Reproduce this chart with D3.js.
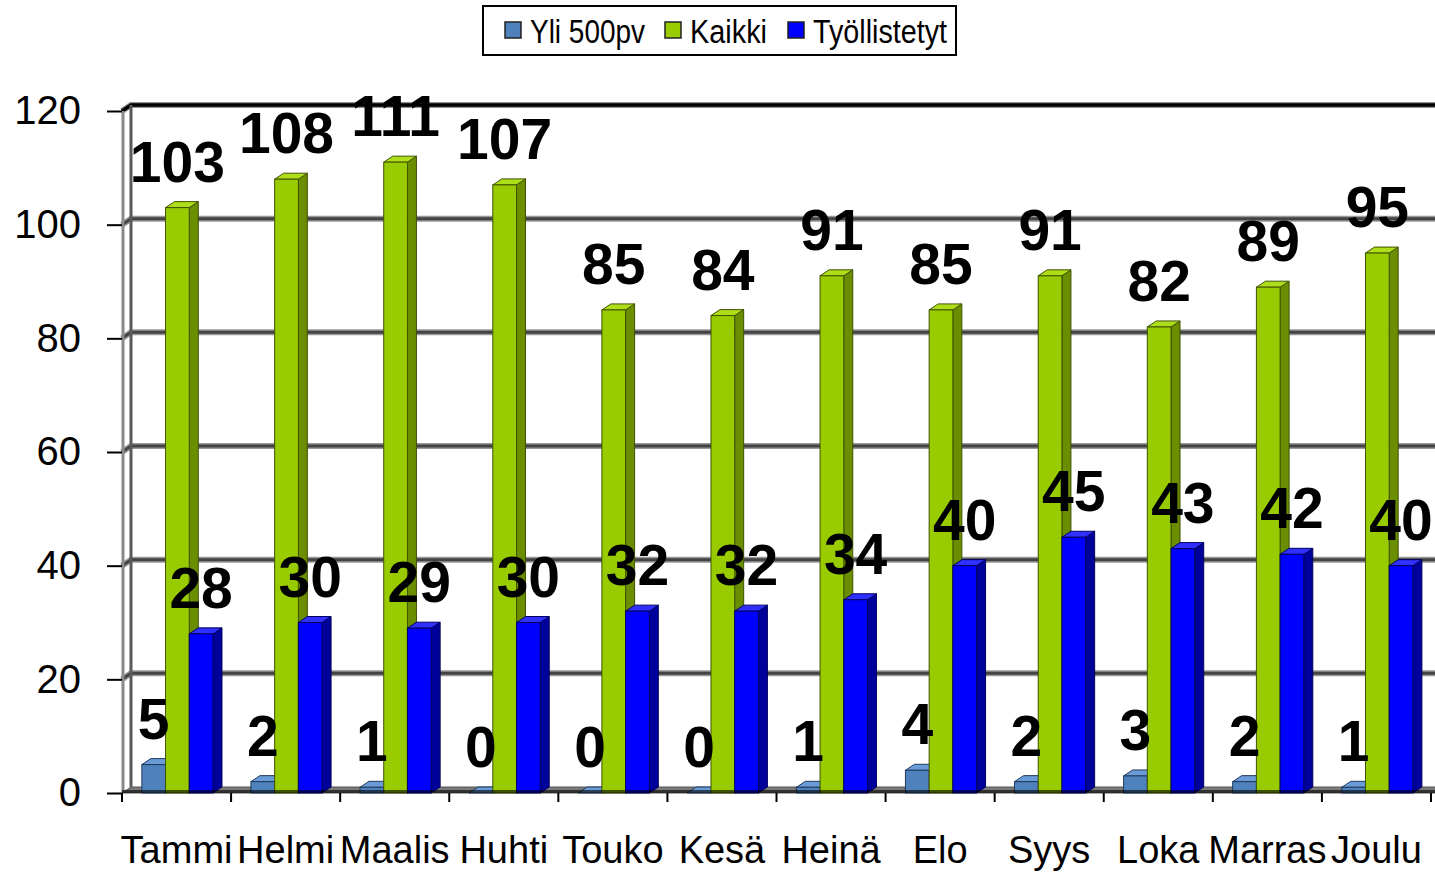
<!DOCTYPE html>
<html>
<head>
<meta charset="utf-8">
<script src="https://cdn.jsdelivr.net/npm/d3@7"></script>
<style>
html,body{margin:0;padding:0;background:#fff;}
svg{display:block;font-family:"Liberation Sans",Arial,sans-serif;}
</style>
</head>
<body>
<svg id="chart" width="1435" height="872"></svg>
<script>
const months = ["Tammi","Helmi","Maalis","Huhti","Touko","Kesä","Heinä","Elo","Syys","Loka","Marras","Joulu"];
const seriesNames = ["Yli 500pv","Kaikki","Työllistetyt"];
const yli500 = [5,2,1,0,0,0,1,4,2,3,2,1];
const kaikki = [103,108,111,107,85,84,91,85,91,82,89,95];
const tyollistetyt = [28,30,29,30,32,32,34,40,45,43,42,40];
const yTicks = [0,20,40,60,80,100,120];

const seriesValues = [yli500, kaikki, tyollistetyt];
const colors = {
  front: ["#4F81BD","#99CC00","#0000FF"],
  top:   ["#6A9BD6","#AEDD1A","#3030FF"],
  side:  ["#2F5A8C","#6B8E00","#00009A"],
  edge:  ["#1F3A5C","#3F5200","#000060"]
};

const svg = d3.select("#chart");
const DX = 9, DY = 6;
const x = d3.scaleBand().domain(months).range([122, 1431]).padding(0);
const bw = x.bandwidth();
const xs = d3.scaleBand().domain(seriesNames).range([bw*0.182, bw*0.834]).padding(0);
const sw = xs.bandwidth();
const y = d3.scaleLinear().domain([0,120]).range([793,111]);
const y0 = y(0);

// back wall gridlines
const gl = svg.append("g");
yTicks.filter(v => v > 0 && v < 120).forEach(v => {
  const yy = y(v);
  gl.append("polyline")
    .attr("points", `122,${yy} ${122+DX},${yy-DY} 1440,${yy-DY}`)
    .attr("fill","none").attr("stroke","#999").attr("stroke-width",6);
  gl.append("polyline")
    .attr("points", `122,${yy} ${122+DX},${yy-DY} 1440,${yy-DY}`)
    .attr("fill","none").attr("stroke","#444").attr("stroke-width",3);
});
// top line
gl.append("polyline")
  .attr("points", `122,${y(120)} ${122+DX},${y(120)-DY} 1440,${y(120)-DY}`)
  .attr("fill","none").attr("stroke","#909090").attr("stroke-width",6);
gl.append("polyline")
  .attr("points", `122,${y(120)} ${122+DX},${y(120)-DY} 1440,${y(120)-DY}`)
  .attr("fill","none").attr("stroke","#000").attr("stroke-width",3.5);
// wall vertical edges
gl.append("line").attr("x1",122+DX).attr("x2",122+DX).attr("y1",y(120)-DY).attr("y2",y0-DY)
  .attr("stroke","#5a5a5a").attr("stroke-width",3);
gl.append("line").attr("x1",123).attr("x2",123).attr("y1",y(120)).attr("y2",y0)
  .attr("stroke","#8a8a8a").attr("stroke-width",3);

// floor
svg.append("polygon")
  .attr("points", `122,${y0} ${122+DX},${y0-DY} ${1431+DX+10},${y0-DY} ${1431+10},${y0}`)
  .attr("fill","#7a7a7a").attr("stroke","#555").attr("stroke-width",1);

// bars
const bars = svg.append("g");
months.forEach((m, i) => {
  seriesValues.forEach((vals, s) => {
    const v = vals[i];
    const bx = x(m) + xs(seriesNames[s]);
    const yt = y(v);
    const g = bars.append("g");
    g.append("polygon")
      .attr("points", `${bx+sw},${yt} ${bx+sw+DX},${yt-DY} ${bx+sw+DX},${y0-DY} ${bx+sw},${y0}`)
      .attr("fill", colors.side[s]).attr("stroke", colors.edge[s]).attr("stroke-width",1);
    g.append("polygon")
      .attr("points", `${bx},${yt} ${bx+DX},${yt-DY} ${bx+sw+DX},${yt-DY} ${bx+sw},${yt}`)
      .attr("fill", colors.top[s]).attr("stroke", colors.edge[s]).attr("stroke-width",1);
    if (v > 0) {
      g.append("rect")
        .attr("x", bx).attr("y", yt).attr("width", sw).attr("height", y0 - yt)
        .attr("fill", colors.front[s]).attr("stroke", colors.edge[s]).attr("stroke-width",1);
    }
  });
});

// floor front edge
svg.append("rect").attr("x",122).attr("y",y0-3).attr("width",1431-122+10).attr("height",3)
  .attr("fill","#000").attr("opacity",0.6);

// x tick marks
svg.append("g").selectAll("line")
  .data(months.map(m => x(m)).concat([x(months[months.length-1]) + bw]))
  .join("line")
  .attr("x1", d => d).attr("x2", d => d)
  .attr("y1", y0).attr("y2", y0 + 9)
  .attr("stroke","#000").attr("stroke-width",2);

// y axis ticks and labels
const yAxis = d3.axisLeft(y).tickValues(yTicks).tickSize(15).tickPadding(26);
const ya = svg.append("g").attr("transform","translate(122,0)").call(yAxis);
ya.select(".domain").remove();
ya.selectAll(".tick line").attr("stroke","#000").attr("stroke-width",2);
ya.selectAll(".tick text").attr("font-size",40).attr("fill","#000")
  .attr("font-family","Liberation Sans, Arial, sans-serif");

// x labels
svg.append("g").selectAll("text").data(months).join("text")
  .attr("x", d => x(d) + bw/2).attr("y", 863)
  .attr("text-anchor","middle").attr("font-size",38).attr("fill","#000")
  .text(d => d);

// data labels
const lab = svg.append("g");
months.forEach((m, i) => {
  seriesValues.forEach((vals, s) => {
    const v = vals[i];
    const bx = x(m) + xs(seriesNames[s]);
    lab.append("text")
      .attr("x", bx + sw/2).attr("y", y(v) - 26)
      .attr("text-anchor","middle").attr("font-size",57).attr("font-weight","bold")
      .attr("fill","#000")
      .text(v);
  });
});

// legend
const lg = svg.append("g");
lg.append("rect").attr("x",483).attr("y",6).attr("width",473).attr("height",49)
  .attr("fill","#fff").attr("stroke","#000").attr("stroke-width",2);
const legItems = [
  {sq:505, tx:530, w:115},
  {sq:665, tx:690, w:77},
  {sq:788, tx:813, w:134}
];
seriesNames.forEach((n, s) => {
  lg.append("rect").attr("x",legItems[s].sq).attr("y",22).attr("width",16).attr("height",16)
    .attr("fill",colors.front[s]).attr("stroke","#222").attr("stroke-width",1.5);
  lg.append("text").attr("x",legItems[s].tx).attr("y",43)
    .attr("font-size",34).attr("fill","#000")
    .attr("textLength",legItems[s].w).attr("lengthAdjust","spacingAndGlyphs")
    .text(n);
});
</script>
</body>
</html>
